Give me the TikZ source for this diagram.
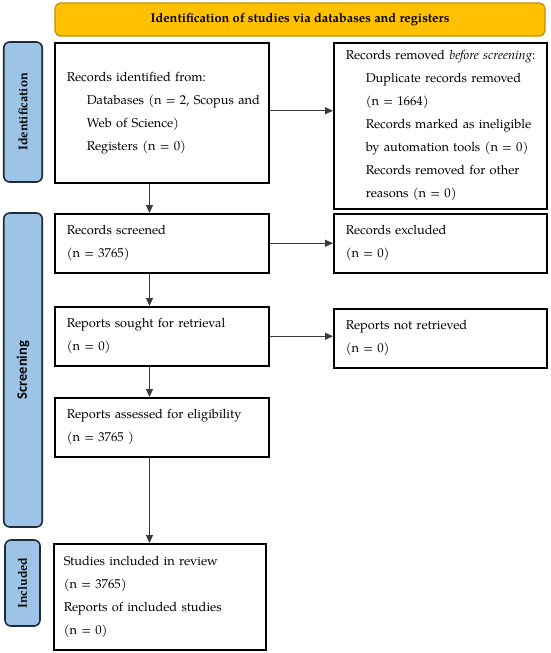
\documentclass[tikz,border=0pt]{standalone}
\usepackage{fontspec}
\setmainfont{TeX Gyre Pagella}
\newfontfamily\labelsans{Carlito}
\usetikzlibrary{arrows.meta}
\definecolor{bannerfill}{HTML}{FFC000}
\definecolor{bannerline}{HTML}{C08F00}
\definecolor{sidefill}{HTML}{9DC3E6}
\definecolor{sideline}{HTML}{1E2B3A}
\definecolor{arrowgray}{HTML}{3A3A3A}
\newcommand{\bodyfont}{\fontsize{12.8}{23}\selectfont}
\begin{document}
\begin{tikzpicture}[x=1pt,y=-1pt,
  box/.style={draw=black, line width=1.5pt, anchor=north west, inner xsep=12pt, inner ysep=0pt, align=left, font=\bodyfont},
  side/.style={draw=sideline, fill=sidefill, line width=1.6pt, rounded corners=6pt, inner sep=0pt, rotate=90},
  arr/.style={-{Triangle[length=8pt,width=7pt]}, line width=0.9pt, draw=arrowgray, fill=black}
]
\useasboundingbox (0,0) rectangle (550,653);

% banner
\node[draw=bannerline, fill=bannerfill, line width=1.2pt, rounded corners=6pt,
      minimum width=490pt, minimum height=33pt, inner sep=0pt,
      font=\fontsize{12.8}{15}\selectfont\bfseries] (banner) at (300,19.5)
      {Identification of studies via databases and registers};

% side labels
\node[side, minimum width=140pt, minimum height=38.5pt, font=\fontsize{12.6}{15}\selectfont\bfseries] (sideid) at (23,112) {Identification};
\node[side, minimum width=314pt, minimum height=38.5pt, font=\fontsize{14.4}{15}\selectfont\labelsans\bfseries] (sidescr) at (23,370) {Screening};
\node[side, minimum width=86pt, minimum height=35pt, font=\fontsize{12.4}{15}\selectfont\bfseries] (sideinc) at (22.5,583) {Included};

% boxes
\node[box, minimum width=214pt, minimum height=140pt, text width=190pt] (ident) at (54,42)
  {\mbox{Records identified from:}\\
   \mbox{\hspace*{20pt}Databases (n = 2, Scopus and}\\
   \mbox{\hspace*{20pt}Web of Science)}\\
   \mbox{\hspace*{20pt}Registers (n = 0)}};

\node[box, minimum width=213pt, minimum height=166pt, text width=189pt] (removed) at (333,42)
  {\mbox{Records removed \emph{before screening}:}\\
   \hspace*{20pt}\makebox[169pt][s]{Duplicate records removed}\\
   \mbox{\hspace*{20pt}(n = 1664)}\\
   \hspace*{20pt}\makebox[169pt][s]{Records marked as ineligible}\\
   \mbox{\hspace*{20pt}by automation tools (n = 0)}\\
   \hspace*{20pt}\makebox[169pt][s]{Records removed for other}\\
   \mbox{\hspace*{20pt}reasons (n = 0)}};

\node[box, minimum width=214pt, minimum height=59pt, text width=190pt] (screened) at (54,213)
  {Records screened\\(n = 3765)};
\node[box, minimum width=213pt, minimum height=59pt, text width=189pt] (excluded) at (333,213)
  {Records excluded\\(n = 0)};
\node[box, minimum width=214pt, minimum height=59pt, text width=190pt] (sought) at (54,306)
  {Reports sought for retrieval\\(n = 0)};
\node[box, minimum width=213pt, minimum height=59pt, text width=189pt] (notret) at (333,308)
  {Reports not retrieved\\(n = 0)};
\node[box, minimum width=214pt, minimum height=59pt, text width=190pt] (assessed) at (54,397)
  {Reports assessed for eligibility\\(n = 3765 )};
\node[box, minimum width=212pt, minimum height=106pt, text width=192pt, inner xsep=10pt] (included) at (53,543)
  {Studies included in review\\(n = 3765)\\Reports of included studies\\(n = 0)};

% connectors
\coordinate (vx) at (149.5,0);
\draw[arr] ([yshift=2pt]ident.east) -- ([yshift=2pt]ident.east -| removed.west);
\draw[arr] (screened.east) -- (screened.east -| excluded.west);
\draw[arr] (sought.east) -- (sought.east -| notret.west);
\draw[arr] (ident.south -| vx) -- (screened.north -| vx);
\draw[arr] (screened.south -| vx) -- (sought.north -| vx);
\draw[arr] (sought.south -| vx) -- (assessed.north -| vx);
\draw[arr] (assessed.south -| vx) -- (included.north -| vx);
\end{tikzpicture}
\end{document}
